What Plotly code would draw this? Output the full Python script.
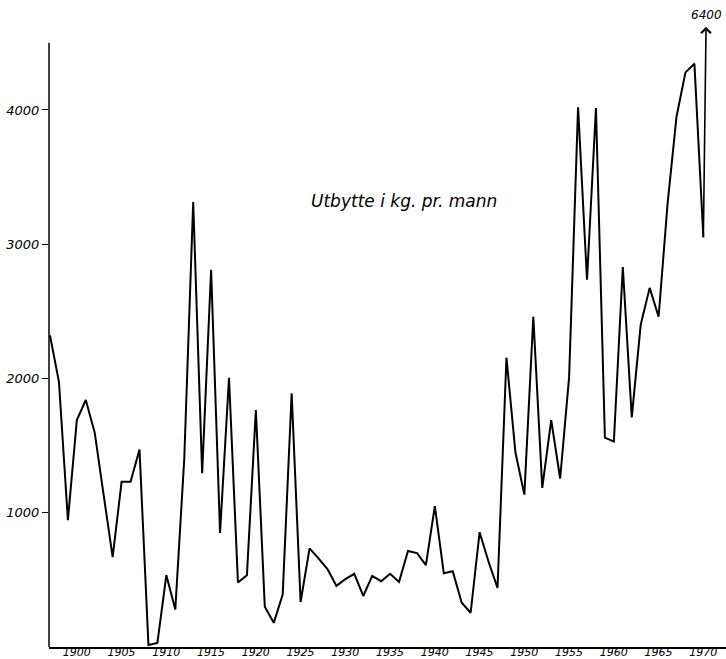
import plotly.graph_objects as go

years = list(range(1897, 1971))
yield_kg = [
    2320, 1975, 945, 1690, 1840, 1595, 1130, 670, 1230, 1230,   # 1897-1906
    1470, 15, 30, 535, 280, 1400, 3315, 1295, 2810, 850,        # 1907-1916
    2005, 480, 535, 1765, 300, 180, 390, 1890, 335, 735,        # 1917-1926
    660, 580, 455, 505, 545, 380, 530, 490, 545, 485,           # 1927-1936
    715, 700, 610, 1050, 550, 565, 330, 255, 855, 635,          # 1937-1946
    440, 2155, 1450, 1135, 2460, 1185, 1690, 1255, 2010, 4020,  # 1947-1956
    2735, 4015, 1560, 1530, 2830, 1710, 2400, 2675, 2460, 3300, # 1957-1966
    3950, 4280, 4345, 3050                                      # 1967-1970
]
y_ticks = [1000, 2000, 3000, 4000]
x_ticks = list(range(1900, 1971, 5))
off_scale_label = "6400"
off_scale_year = 1970.3
arrow_top = 4620
title_text = "Utbytte i kg. pr. mann"

font_family = "DejaVu Sans"

fig = go.Figure()
fig.add_trace(go.Scatter(
    x=years, y=yield_kg, mode="lines",
    line=dict(color="black", width=2),
    showlegend=False, hoverinfo="skip",
))

# off-scale arrow
fig.add_annotation(
    x=off_scale_year, y=arrow_top, ax=years[-1], ay=yield_kg[-1],
    xref="x", yref="y", axref="x", ayref="y",
    text="", showarrow=True, arrowhead=4, arrowsize=1.2, arrowwidth=1.6,
    arrowcolor="black",
)
fig.add_annotation(
    x=off_scale_year, y=arrow_top, xref="x", yref="y",
    text=off_scale_label, showarrow=False, yanchor="bottom", yshift=3,
    font=dict(family=font_family, size=12, color="black", style="italic"),
)
fig.add_annotation(
    x=1936.6, y=3320, xref="x", yref="y",
    text=title_text, showarrow=False,
    font=dict(family=font_family, size=17, color="black", style="italic"),
)

# y axis line (does not reach top)
fig.add_shape(type="line", xref="paper", yref="y", x0=0, x1=0, y0=0, y1=4500,
              line=dict(color="black", width=1.5))

fig.update_layout(
    width=726, height=659,
    margin=dict(l=49, r=0, t=16, b=12, autoexpand=False),
    paper_bgcolor="white", plot_bgcolor="white",
    font=dict(family=font_family, size=12, color="black", style="italic"),
    xaxis=dict(
        range=[1896.888, 1972.53], tickvals=x_ticks,
        ticktext=[str(v) for v in x_ticks],
        showgrid=False, zeroline=False, showline=True, automargin=False,
        linecolor="black", linewidth=1.5, ticks="", ticklabelstandoff=-6,
        tickfont=dict(family=font_family, size=11, style="italic"),
    ),
    yaxis=dict(
        range=[0, 4700], tickvals=y_ticks, automargin=False,
        ticktext=[str(v) for v in y_ticks],
        showgrid=False, zeroline=False, showline=False,
        ticks="outside", ticklen=6, tickcolor="black", tickwidth=1,
        tickfont=dict(family=font_family, size=13, style="italic"),
    ),
)

fig.write_html("out.html", config={"displayModeBar": False},
               post_script="document.body.style.margin='0';")
